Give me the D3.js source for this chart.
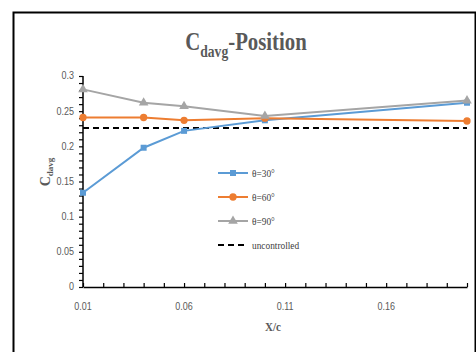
<!DOCTYPE html>
<html>
<head>
<meta charset="utf-8">
<script src="https://cdn.jsdelivr.net/npm/d3@7"></script>
<style>
  body { margin: 0; background: #fff; }
  svg { display: block; }
</style>
</head>
<body>
<script>
// Data.
const positions = [0.01, 0.04, 0.06, 0.10, 0.20];
const theta30 = [0.134, 0.198, 0.222, 0.237, 0.262];
const theta60 = [0.241, 0.241, 0.237, 0.240, 0.236];
const theta90 = [0.281, 0.262, 0.257, 0.243, 0.265];
const uncontrolled = 0.226;
const xTickLabels = [0.01, 0.06, 0.11, 0.16];
const yTickLabels = [0, 0.05, 0.1, 0.15, 0.2, 0.25, 0.3];
const seriesNames = ['\u03b8=30\u00b0', '\u03b8=60\u00b0', '\u03b8=90\u00b0', 'uncontrolled'];

const width = 476, height = 352;
const plot = {left: 83, right: 467, top: 76, bottom: 287};
const grey = '#595959';

const svg = d3.select('body').append('svg')
  .attr('width', width)
  .attr('height', height);

// Outer frame.
svg.append('rect')
  .attr('x', 13.5).attr('y', 12.5)
  .attr('width', 462).attr('height', 360)
  .attr('fill', 'none')
  .attr('stroke', '#000')
  .attr('stroke-width', 2);

// Scales.
const x = d3.scaleLinear().domain([0.01, 0.20]).range([plot.left, plot.right]);
const y = d3.scaleLinear().domain([0, 0.3]).range([plot.bottom, plot.top]);

// Axes: minor ticks every 0.01, labels at the named values.
const xAxis = d3.axisBottom(x)
  .tickValues(d3.range(0, 20).map(i => +(0.01 + i * 0.01).toFixed(2)))
  .tickSize(0)
  .tickFormat('');
const gx = svg.append('g')
  .attr('transform', 'translate(0,' + plot.bottom + ')')
  .call(xAxis);
gx.select('.domain').attr('stroke', '#000').attr('stroke-width', 1.5);
gx.selectAll('.tick line').attr('y2', -4).attr('stroke', '#000').attr('stroke-width', 1.2);

svg.append('g')
  .selectAll('text')
  .data(xTickLabels)
  .join('text')
  .attr('x', d => x(d))
  .attr('y', 310)
  .attr('text-anchor', 'middle')
  .attr('font-family', 'Liberation Sans, sans-serif')
  .attr('font-size', 10)
  .attr('fill', grey)
  .attr('transform', d => 'translate(' + x(d) + ',0) scale(0.9,1) translate(' + (-x(d)) + ',0)')
  .text(d => d);

const yAxis = d3.axisLeft(y)
  .tickValues(d3.range(0, 31).map(i => +(i * 0.01).toFixed(2)))
  .tickSize(4)
  .tickFormat('');
const gy = svg.append('g')
  .attr('transform', 'translate(' + plot.left + ',0)')
  .call(yAxis);
gy.select('.domain').attr('stroke', '#000').attr('stroke-width', 1.5).attr('d', 'M0,' + plot.top + 'V' + plot.bottom);
gy.selectAll('.tick line').attr('stroke', '#000').attr('stroke-width', 1.2);

svg.append('g')
  .selectAll('text')
  .data(yTickLabels)
  .join('text')
  .attr('x', 74)
  .attr('y', d => y(d) + 3.5)
  .attr('text-anchor', 'end')
  .attr('font-family', 'Liberation Sans, sans-serif')
  .attr('font-size', 10)
  .attr('fill', grey)
  .attr('transform', 'translate(74,0) scale(0.9,1) translate(-74,0)')
  .text(d => d);

// Series.
const series = [
  {values: theta30, color: '#5B9BD5', symbol: d3.symbolSquare, size: 36},
  {values: theta60, color: '#ED7D31', symbol: d3.symbolCircle, size: 42},
  {values: theta90, color: '#A5A5A5', symbol: d3.symbolTriangle, size: 40}
];

const line = d3.line().x(d => x(d[0])).y(d => y(d[1]));

// Uncontrolled baseline.
svg.append('line')
  .attr('x1', x(positions[0])).attr('x2', x(positions[positions.length - 1]))
  .attr('y1', y(uncontrolled)).attr('y2', y(uncontrolled))
  .attr('stroke', '#000')
  .attr('stroke-width', 2)
  .attr('stroke-dasharray', '6,4');

series.forEach(s => {
  const pts = positions.map((p, i) => [p, s.values[i]]);
  svg.append('path')
    .datum(pts)
    .attr('d', line)
    .attr('fill', 'none')
    .attr('stroke', s.color)
    .attr('stroke-width', 2);
  svg.append('g')
    .selectAll('path')
    .data(pts)
    .join('path')
    .attr('transform', d => 'translate(' + x(d[0]) + ',' + y(d[1]) + ')')
    .attr('d', d3.symbol().type(s.symbol).size(s.size))
    .attr('fill', s.color);
});

// Legend.
const legend = svg.append('g');
seriesNames.forEach((name, i) => {
  const ly = 173 + i * 24;
  const g = legend.append('g').attr('transform', 'translate(0,' + ly + ')');
  if (i < 3) {
    g.append('line')
      .attr('x1', 218).attr('x2', 248)
      .attr('stroke', series[i].color).attr('stroke-width', 2);
    g.append('path')
      .attr('transform', 'translate(233,0)')
      .attr('d', d3.symbol().type(series[i].symbol).size(series[i].size))
      .attr('fill', series[i].color);
  } else {
    g.append('line')
      .attr('x1', 218).attr('x2', 248)
      .attr('stroke', '#000').attr('stroke-width', 2)
      .attr('stroke-dasharray', '6,4');
  }
  g.append('g')
    .attr('transform', 'translate(252,4) scale(0.85,1)')
    .append('text')
    .attr('font-family', 'Liberation Serif, serif')
    .attr('font-size', 11)
    .attr('fill', '#404040')
    .text(name);
});

// Title.
const title = svg.append('g')
  .attr('transform', 'translate(246,50) scale(0.8,1)')
  .append('text')
  .attr('text-anchor', 'middle')
  .attr('font-family', 'Liberation Serif, serif')
  .attr('font-weight', 'bold')
  .attr('font-size', 26)
  .attr('fill', grey);
title.append('tspan').text('C');
title.append('tspan').attr('font-size', 17).attr('dy', 7).text('davg');
title.append('tspan').attr('dy', -7).text('-Position');

// Y axis title, reading upwards.
const ytitle = svg.append('g')
  .attr('transform', 'translate(50,172)')
  .append('g')
  .attr('transform', 'rotate(-90)')
  .append('text')
  .attr('text-anchor', 'middle')
  .attr('font-family', 'Liberation Serif, serif')
  .attr('font-weight', 'bold')
  .attr('font-size', 14)
  .attr('fill', grey);
ytitle.append('tspan').text('C');
ytitle.append('tspan').attr('font-size', 9).attr('dy', 3).text('davg');

// X axis title.
svg.append('g')
  .attr('transform', 'translate(273,331) scale(0.85,1)')
  .append('text')
  .attr('text-anchor', 'middle')
  .attr('font-family', 'Liberation Serif, serif')
  .attr('font-weight', 'bold')
  .attr('font-size', 13)
  .attr('fill', grey)
  .text('X/c');
</script>
</body>
</html>
